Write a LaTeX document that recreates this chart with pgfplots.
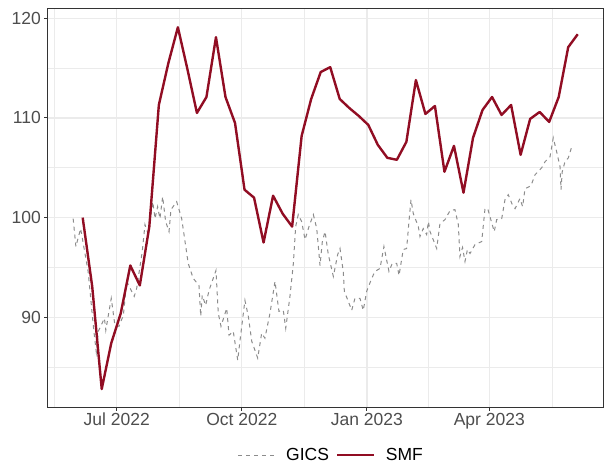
\documentclass[border=0pt]{standalone}
\usepackage{fontspec}
\setmainfont{Liberation Sans}
\usepackage{pgfplots}
\pgfplotsset{compat=1.18}

\definecolor{grey20}{RGB}{51,51,51}
\definecolor{grey30}{RGB}{77,77,77}
\definecolor{grey92}{RGB}{235,235,235}
\definecolor{gicsgray}{RGB}{140,140,140}
\definecolor{smfred}{RGB}{145,13,35}

\begin{document}
\begin{tikzpicture}
\useasboundingbox (-48pt,-58pt) rectangle (561pt,407pt);
\begin{axis}[
    scale only axis,
    width=555.3pt, height=398pt,
    xmin=-50.5, xmax=357.8,
    ymin=81.0, ymax=120.93,
    xtick={0,92,184,274},
    xticklabels={Jul 2022, Oct 2022, Jan 2023, Apr 2023},
    minor xtick={-46,46,138,229,320},
    ytick={90,100,110,120},
    minor ytick={85,95,105,115},
    grid=both,
    major grid style={color=grey92, line width=1.3pt},
    minor grid style={color=grey92, line width=0.7pt},
    axis line style={color=grey20, line width=1pt},
    tick pos=left,
    tick align=outside,
    major tick length=3.7pt,
    minor tick length=0pt,
    tick style={color=grey20, line width=1pt},
    tick label style={font=\fontsize{17.5}{20}\selectfont, color=grey30},
    xticklabel style={yshift=1pt},
    /pgf/number format/assume math mode=true,
    legend columns=2,
    legend style={draw=none, fill=none, at={(0.51,-0.1206)}, anchor=center,
        font=\fontsize{17.5}{20}\selectfont,
        /tikz/every odd column/.append style={column sep=9pt},
        /tikz/every even column/.append style={column sep=5pt}},
    legend image code/.code={\draw[#1] (0pt,0pt) -- (36.5pt,0pt);},
]
% GICS index (daily)
\addplot[color=gicsgray, line width=1pt, dash pattern=on 4pt off 4pt] coordinates {
(-32,99.9) (-30,97.1) (-26.5,98.9) (-21,94.6) (-17,88.9) (-15,86.5) (-13.5,88.6)
(-9,89.9) (-8,88.7) (-4,91.9) (-1.3,89.2) (1.7,89.1) (4.9,90.2) (7.4,93.6)
(12.9,92.1) (14.7,92.9) (18.8,96.6) (20.8,99.3) (23.2,98.3) (26.5,101.6) (28.2,99.9)
(30.1,101.1) (31.8,99.9) (33.8,102.1) (36.0,99.6) (38.5,98.6) (39.9,100.8) (44.1,101.6)
(47.8,99.9) (52.6,95.4) (56.3,93.9) (60.5,93.2) (61.8,90.1) (62.9,92.2) (65.4,91.2)
(67.9,92.7) (73.0,94.7) (74.7,90.4) (76.7,89.1) (80.9,90.9) (82.6,88.2) (85.7,88.6)
(89.0,85.7) (90.7,87.7) (94.3,91.7) (96.8,90.1) (99.3,87.6) (103.7,85.9) (106.6,88.4)
(109.0,87.9) (112.7,90.4) (116.4,93.6) (119.3,90.6) (122.5,90.7) (124.3,88.9) (127.4,92.1)
(129.9,95.4) (131.6,99.1) (133.5,100.3) (136.0,99.6) (138.5,97.8) (141.4,99.1) (144.6,100.3)
(147.1,98.9) (149.5,95.2) (151.2,97.6) (153.2,98.6) (155.6,96.3) (159.3,94.1) (162.5,96.3)
(164.2,96.9) (166.6,94.6) (167.4,92.6) (170.3,91.6) (172.8,90.7) (175.2,91.9) (178.9,91.9)
(181.3,90.7) (183.8,92.6) (187.5,93.9) (189.9,94.6) (193.6,94.9) (196.5,97.1) (200.2,94.6)
(202.6,95.4) (205.9,95.4) (207.6,94.2) (210.7,96.8) (213.2,96.9) (214.9,99.6) (216.4,101.8)
(218.1,100.4) (221.8,99.1) (223.0,98.1) (225.4,98.9) (227.9,98.3) (229.2,99.6) (230.4,98.6)
(235.3,96.9) (237.7,99.4) (241.4,99.8) (245.1,100.7) (248.7,100.8) (251.2,99.3) (252.4,96.1)
(254.3,97.0) (256.1,95.6) (257.9,96.8) (259.8,96.4) (263.5,97.3) (268.4,97.6) (270.8,100.9)
(272.8,100.9) (277.6,98.6) (279.4,99.8) (283.1,99.9) (285.5,101.8) (287.9,102.3) (290.9,101.3)
(292.9,100.9) (296.5,101.9) (298.5,101.1) (300.2,102.9) (304.6,103.2) (307.6,104.3) (312.5,105.0)
(314.9,105.6) (318.6,106.1) (321.0,108.0) (323.5,106.6) (326.0,105.1) (326.7,102.8) (327.6,104.6)
(329.6,105.6) (332.1,106.0) (335.0,107.3)
};
\addlegendentry{GICS}
% SMF (weekly)
\addplot[color=smfred, line width=2.4pt, line join=round] coordinates {
(-25,100.0) (-18,93.1) (-11,82.8) (-4,87.4) (3,90.4) (10,95.2) (17,93.2) (24,99.1)
(31,111.3) (38,115.5) (45,119.1) (52,114.9) (59,110.5) (66,112.1) (73,118.1) (80,112.1)
(87,109.5) (94,102.8) (101,102.0) (108,97.5) (115,102.2) (122,100.4) (129,99.1) (136,108.2)
(143,111.9) (150,114.6) (157,115.1) (164,111.9) (171,111.0) (178,110.2) (185,109.3) (192,107.3)
(199,106.0) (206,105.8) (213,107.6) (220,113.8) (227,110.4) (234,111.2) (241,104.6) (248,107.2)
(255,102.5) (262,108.0) (269,110.8) (276,112.1) (283,110.3) (290,111.3) (297,106.3) (304,109.9)
(311,110.6) (318,109.6) (325,112.1) (332,117.1) (339,118.4)
};
\addlegendentry{SMF}
\end{axis}
\end{tikzpicture}
\end{document}
